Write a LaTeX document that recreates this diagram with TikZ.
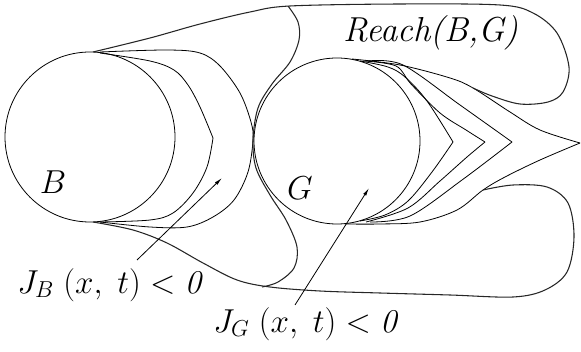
\documentclass[tikz,border=0pt]{standalone}
\usepackage{amsmath}
\usepackage{tikz}
\usetikzlibrary{arrows.meta,positioning}
\tikzset{
  setc/.style={circle,draw=black,line width=0.6pt,minimum size=#1,inner sep=0pt},
  lvl/.style={line width=0.6pt,black,smooth,tension=0.55},
  rch/.style={line width=0.8pt,black!85,smooth,tension=0.55},
  ptr/.style={-{Latex[length=6pt,width=2.6pt]},line width=0.6pt,black},
  lab/.style={font=\fontsize{23}{27}\selectfont,inner sep=0pt},
  big/.style={font=\fontsize{26}{30}\selectfont,inner sep=0pt},
}

\begin{document}
\begin{tikzpicture}[x=0.75pt,y=-0.75pt]
  \useasboundingbox (0,0) rectangle (581,352);
  \node[setc=127.5pt] (B) at (90,137) {};
  \node[setc=124.5pt] (G) at (337,141) {};
  % level sets of J_B
  \draw[lvl] plot coordinates {(100,53) (150,61) (174,70) (188,85) (200,107) (213,138)};
  \draw[lvl] plot coordinates {(213,138) (207,167) (193,193) (173,213) (150,220) (100,222)};
  \draw[lvl] plot coordinates {(100,52) (167,50) (200,53) (220,66) (240,93) (251,122) (253,140)
     (248,172) (234,200) (213,217) (187,227) (150,227) (100,222)};
  % level sets of J_G
  \draw[lvl] plot coordinates {(360,61) (388,67) (405,77) (427,101) (453,142)};
  \draw[lvl] plot coordinates {(453,142) (432,172) (408,201) (385,215) (360,221)};
  \draw[lvl] plot coordinates {(364,61) (396,66) (411,84) (440,113) (466,130) (485,142)};
  \draw[lvl] plot coordinates {(485,142) (467,157) (440,181) (408,208) (366,222)};
  \draw[lvl] plot coordinates {(368,61) (403,65) (460,105) (512,142)};
  \draw[lvl] plot coordinates {(512,142) (462,180) (410,216) (370,222)};
  \draw[lvl] plot coordinates {(352,59) (400,65) (450,78) (473,88) (510,112) (540,130) (580,143)};
  \draw[lvl] plot coordinates {(580,143) (540,160) (505,177) (483,190) (457,210) (420,222) (380,224) (345,224)};
  % boundary of Reach(B,G)
  \draw[rch] plot coordinates {(93,52) (150,38) (200,24) (250,12) (290,6) (400,4) (500,5) (533,13)
     (557,33) (569,67) (563,92) (548,102) (520,104) (492,96) (473,88)};
  \draw[rch] plot coordinates {(483,190) (513,185) (547,187) (568,203) (574,237) (567,272) (545,290)
     (513,297) (450,295) (380,293) (320,291) (270,287) (237,280) (203,263) (167,243) (133,230) (93,222)};
  \draw[rch] plot coordinates {(288,6) (298,22) (299,40) (290,62) (272,84) (258,108) (253,140)
     (256,168) (270,195) (286,220) (297,247) (294,268) (278,282) (262,287)};
  % labels
  \node[big] (lblB) at (53,182) {$B$};
  \node[big] (lblG) at (300,188) {$G$};
  \node[big] (lblR) at (431,33) {\textit{Reach(B,G)}};
  \node[lab,anchor=base west] (lblJB) at (17,293) {$J_B\ (x,\ t) < \mathit{0}$};
  \node[lab,anchor=base west] (lblJG) at (213,332) {$J_G\ (x,\ t) < \mathit{0}$};
  \coordinate (tailB) at (137,260);
  \coordinate (tipB) at (222,178);
  \coordinate (tailG) at (295,305);
  \coordinate (tipG) at (369,188);
  \draw[ptr] (tailB) -- (tipB);
  \draw[ptr] (tailG) -- (tipG);
\end{tikzpicture}
\end{document}
